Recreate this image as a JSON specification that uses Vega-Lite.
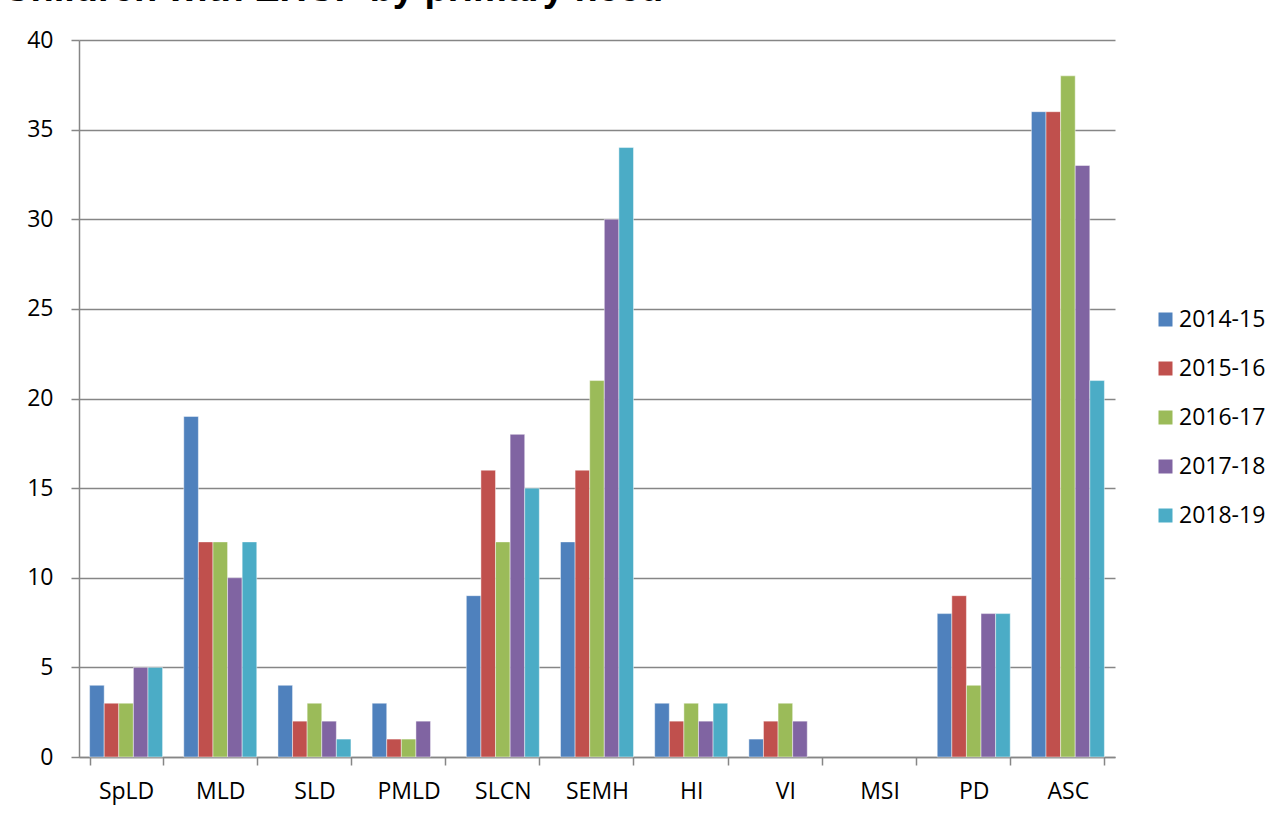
{
  "$schema": "https://vega.github.io/schema/vega-lite/v6.json",
  "autosize": {"type": "none"},
  "width": 1036,
  "height": 717,
  "padding": {"left": 79, "top": 40, "right": 170, "bottom": 57},
  "background": "white",
  "title": {
    "text": "Children with EHCP by primary need",
    "anchor": "start",
    "frame": "group",
    "orient": "top",
    "offset": 0,
    "baseline": "alphabetic",
    "dx": -76,
    "dy": 10,
    "fontSize": 38,
    "font": "Liberation Sans",
    "fontWeight": "bold",
    "color": "black"
  },
  "data": {
    "values": [
      {"need": "SpLD", "year": "2014-15", "count": 4},
      {"need": "SpLD", "year": "2015-16", "count": 3},
      {"need": "SpLD", "year": "2016-17", "count": 3},
      {"need": "SpLD", "year": "2017-18", "count": 5},
      {"need": "SpLD", "year": "2018-19", "count": 5},
      {"need": "MLD", "year": "2014-15", "count": 19},
      {"need": "MLD", "year": "2015-16", "count": 12},
      {"need": "MLD", "year": "2016-17", "count": 12},
      {"need": "MLD", "year": "2017-18", "count": 10},
      {"need": "MLD", "year": "2018-19", "count": 12},
      {"need": "SLD", "year": "2014-15", "count": 4},
      {"need": "SLD", "year": "2015-16", "count": 2},
      {"need": "SLD", "year": "2016-17", "count": 3},
      {"need": "SLD", "year": "2017-18", "count": 2},
      {"need": "SLD", "year": "2018-19", "count": 1},
      {"need": "PMLD", "year": "2014-15", "count": 3},
      {"need": "PMLD", "year": "2015-16", "count": 1},
      {"need": "PMLD", "year": "2016-17", "count": 1},
      {"need": "PMLD", "year": "2017-18", "count": 2},
      {"need": "PMLD", "year": "2018-19", "count": 0},
      {"need": "SLCN", "year": "2014-15", "count": 9},
      {"need": "SLCN", "year": "2015-16", "count": 16},
      {"need": "SLCN", "year": "2016-17", "count": 12},
      {"need": "SLCN", "year": "2017-18", "count": 18},
      {"need": "SLCN", "year": "2018-19", "count": 15},
      {"need": "SEMH", "year": "2014-15", "count": 12},
      {"need": "SEMH", "year": "2015-16", "count": 16},
      {"need": "SEMH", "year": "2016-17", "count": 21},
      {"need": "SEMH", "year": "2017-18", "count": 30},
      {"need": "SEMH", "year": "2018-19", "count": 34},
      {"need": "HI", "year": "2014-15", "count": 3},
      {"need": "HI", "year": "2015-16", "count": 2},
      {"need": "HI", "year": "2016-17", "count": 3},
      {"need": "HI", "year": "2017-18", "count": 2},
      {"need": "HI", "year": "2018-19", "count": 3},
      {"need": "VI", "year": "2014-15", "count": 1},
      {"need": "VI", "year": "2015-16", "count": 2},
      {"need": "VI", "year": "2016-17", "count": 3},
      {"need": "VI", "year": "2017-18", "count": 2},
      {"need": "VI", "year": "2018-19", "count": 0},
      {"need": "MSI", "year": "2014-15", "count": 0},
      {"need": "MSI", "year": "2015-16", "count": 0},
      {"need": "MSI", "year": "2016-17", "count": 0},
      {"need": "MSI", "year": "2017-18", "count": 0},
      {"need": "MSI", "year": "2018-19", "count": 0},
      {"need": "PD", "year": "2014-15", "count": 8},
      {"need": "PD", "year": "2015-16", "count": 9},
      {"need": "PD", "year": "2016-17", "count": 4},
      {"need": "PD", "year": "2017-18", "count": 8},
      {"need": "PD", "year": "2018-19", "count": 8},
      {"need": "ASC", "year": "2014-15", "count": 36},
      {"need": "ASC", "year": "2015-16", "count": 36},
      {"need": "ASC", "year": "2016-17", "count": 38},
      {"need": "ASC", "year": "2017-18", "count": 33},
      {"need": "ASC", "year": "2018-19", "count": 21}
    ]
  },
  "transform": [{"filter": "datum.count > 0"}],
  "mark": {"type": "bar", "stroke": "white", "strokeOpacity": 0.45, "strokeWidth": 1},
  "encoding": {
    "x": {
      "field": "need",
      "type": "nominal",
      "sort": null,
      "title": null,
      "scale": {
        "domain": ["SpLD", "MLD", "SLD", "PMLD", "SLCN", "SEMH", "HI", "VI", "MSI", "PD", "ASC"],
        "paddingInner": 0.225,
        "paddingOuter": 0.1125
      },
      "axis": {
        "labelAngle": 0,
        "tickBand": "extent",
        "tickSize": 8,
        "labelPadding": 15,
        "labelFont": "Open Sans",
        "labelFontSize": 23,
        "labelColor": "black",
        "domainColor": "#868686",
        "domainWidth": 1.5,
        "tickColor": "#868686",
        "tickWidth": 1.5,
        "grid": false
      }
    },
    "xOffset": {
      "field": "year",
      "type": "nominal",
      "scale": {
        "domain": ["2014-15", "2015-16", "2016-17", "2017-18", "2018-19"],
        "paddingInner": 0,
        "paddingOuter": 0
      }
    },
    "y": {
      "field": "count",
      "type": "quantitative",
      "title": null,
      "scale": {"domain": [0, 40], "nice": false},
      "axis": {
        "values": [0, 5, 10, 15, 20, 25, 30, 35, 40],
        "tickSize": 8,
        "labelPadding": 18,
        "labelFont": "Open Sans",
        "labelFontSize": 23,
        "labelColor": "black",
        "domainColor": "#868686",
        "domainWidth": 1.5,
        "tickColor": "#868686",
        "tickWidth": 1.5,
        "grid": true,
        "gridColor": "#868686",
        "gridWidth": 1.5
      }
    },
    "color": {
      "field": "year",
      "type": "nominal",
      "title": null,
      "scale": {
        "domain": ["2014-15", "2015-16", "2016-17", "2017-18", "2018-19"],
        "range": ["#4F81BD", "#C0504D", "#9BBB59", "#8064A2", "#4BACC6"]
      },
      "legend": {
        "orient": "none",
        "legendX": 1075,
        "legendY": 268,
        "padding": 0,
        "symbolType": "square",
        "symbolSize": 196,
        "symbolStrokeWidth": 0,
        "symbolOpacity": 1,
        "labelOffset": 2,
        "labelFont": "Open Sans",
        "labelFontSize": 23,
        "labelColor": "black",
        "rowPadding": 25
      }
    }
  },
  "config": {
    "view": {"stroke": null}
  }
}
